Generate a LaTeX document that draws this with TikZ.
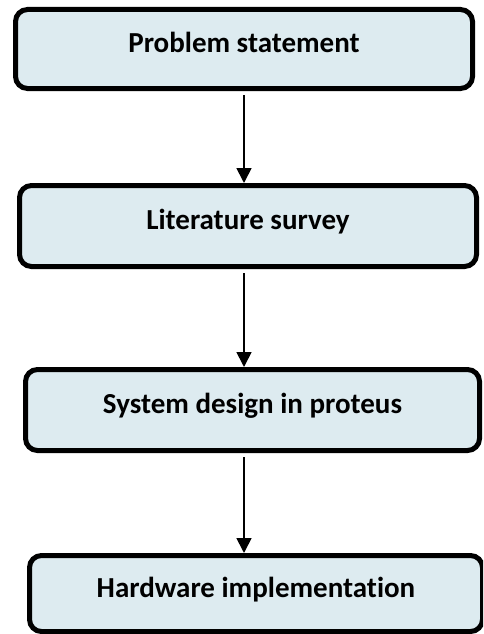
\documentclass[tikz,border=0pt]{standalone}
\usepackage{fontspec}
\setmainfont[Ligatures=NoCommon]{Carlito}
\usetikzlibrary{arrows.meta}
\definecolor{boxfill}{RGB}{221,235,240}
\begin{document}
\begin{tikzpicture}[x=1pt,y=-1pt,
  stepbox/.style={draw=black, line width=5pt, fill=boxfill, rounded corners=12pt,
    inner sep=0pt, text height=19pt, text depth=12pt,
    font=\fontsize{29}{32}\selectfont\bfseries},
  arr/.style={line width=1.7pt, -{Triangle[width=15pt,length=15pt]}}]
\useasboundingbox (0,0) rectangle (483,634);
\clip (0,0) rectangle (483,634);
\fill[white] (0,0) rectangle (483,634);
\node[stepbox, minimum width=457pt, minimum height=79pt] (b1) at (244,49) {Problem statement};
\node[stepbox, minimum width=457pt, minimum height=81pt] (b2) at (248,226) {Literature survey};
\node[stepbox, minimum width=454pt, minimum height=81pt] (b3) at (252.5,410) {System design in proteus};
\node[stepbox, minimum width=453pt, minimum height=76pt] (b4) at (256,593.5) {Hardware implementation};
\draw[arr] ([yshift=-4pt]b1.south) -- (b1.south |- b2.north);
\draw[arr] ([yshift=-4pt]b1.south |- b2.south) -- (b1.south |- b3.north);
\draw[arr] ([yshift=-4pt]b1.south |- b3.south) -- (b1.south |- b4.north);
\end{tikzpicture}
\end{document}
